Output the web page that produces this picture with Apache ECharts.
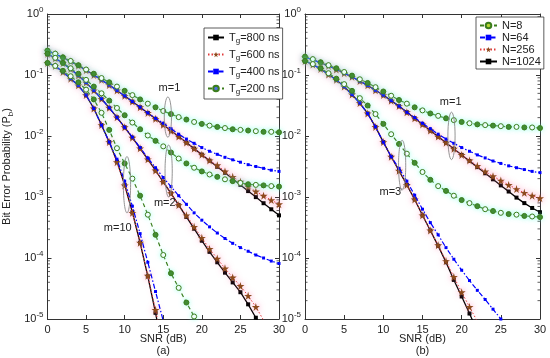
<!DOCTYPE html>
<html><head><meta charset="utf-8">
<script src="https://cdn.jsdelivr.net/npm/echarts@6/dist/echarts.min.js"></script>
<style>html,body{margin:0;padding:0;background:#fff}#c{width:550px;height:358px}</style>
</head><body><div id="c"></div>
<script>
// SNR (dB) categories
const snr = [0,1,2,3,4,5,6,7,8,9,10,11,12,13,14,15,16,17,18,19,20,21,22,23,24,25,26,27,28,29,30];

// ---- Panel (a): guard interval Tg ----
// m = 1
const a_m1_800 = [0.25,0.221,0.193,0.167,0.142,0.120,0.100,0.0832,0.0684,0.0559,0.0455,0.0367,0.0296,0.0239,0.0191,0.0153,0.0122,0.00978,0.0078,0.00621,0.00495,0.00394,0.00313,0.00249,0.00198,0.00158,0.00125,0.000996,0.000791,0.000629,0.0005];
const a_m1_600 = [0.25,0.221,0.193,0.167,0.142,0.120,0.100,0.0832,0.0684,0.0559,0.0455,0.0367,0.0296,0.0239,0.0191,0.0153,0.0122,0.00978,0.0078,0.00621,0.00495,0.00398,0.00331,0.00263,0.00214,0.00178,0.00148,0.00123,0.00105,0.00089,0.00076];
const a_m1_400 = [0.25,0.221,0.193,0.167,0.142,0.120,0.100,0.0832,0.0684,0.0559,0.0455,0.0367,0.0296,0.0239,0.0195,0.0162,0.0132,0.0107,0.00891,0.00759,0.00646,0.00562,0.00501,0.00447,0.00407,0.00372,0.00339,0.00316,0.00295,0.00275,0.00263];
const a_m1_200 = [0.251,0.224,0.195,0.170,0.145,0.123,0.105,0.0891,0.0759,0.0646,0.0550,0.0468,0.0398,0.0339,0.0295,0.0257,0.0229,0.0204,0.0186,0.0170,0.0158,0.0148,0.0141,0.0135,0.0129,0.0126,0.0123,0.0120,0.0117,0.0117,0.0115];
// m = 2
const a_m2_800 = [0.222,0.188,0.156,0.125,0.0982,0.0751,0.0559,0.0407,0.0290,0.0202,0.0139,0.0094,0.00628,0.00415,0.00272,0.00177,0.00115,0.000736,0.000472,0.000302,0.000192,0.000126,0.0000851,0.0000575,0.0000398,0.0000275,0.0000174,0.0000105,0.0000063];
const a_m2_600 = [0.222,0.188,0.156,0.125,0.0982,0.0751,0.0559,0.0407,0.0290,0.0202,0.0139,0.0094,0.00628,0.00415,0.00272,0.00177,0.00115,0.000736,0.000501,0.000324,0.000214,0.000141,0.0000977,0.0000676,0.0000479,0.0000347,0.000024,0.0000158,0.00000955];
const a_m2_400 = [0.222,0.188,0.156,0.125,0.0982,0.0751,0.0559,0.0407,0.0290,0.0202,0.0139,0.00955,0.00646,0.00437,0.00302,0.00209,0.00148,0.00105,0.000759,0.00055,0.000417,0.000324,0.000257,0.000209,0.000174,0.000148,0.000129,0.000112,0.0001,0.0000891,0.0000813];
const a_m2_200 = [0.224,0.191,0.158,0.129,0.105,0.0832,0.0646,0.0501,0.0380,0.0288,0.0219,0.0166,0.0129,0.0102,0.00832,0.00676,0.00537,0.00427,0.00355,0.00302,0.00263,0.00234,0.00214,0.00195,0.00182,0.00170,0.00162,0.00158,0.00155,0.00151,0.00148];
// m = 10
const a_m10_800 = [0.158,0.141,0.112,0.0871,0.0676,0.0468,0.0282,0.0151,0.00794,0.0038,0.00158,0.000562,0.000178,0.0000501,0.0000126,0.0000028];
const a_m10_600 = [0.158,0.141,0.112,0.0871,0.0676,0.0468,0.0282,0.0151,0.00794,0.00372,0.00155,0.00055,0.000178,0.0000513,0.0000141,0.0000035];
const a_m10_400 = [0.158,0.141,0.112,0.0871,0.0676,0.0468,0.0282,0.0151,0.00794,0.00417,0.00182,0.000708,0.000251,0.0000851,0.0000282,0.00000933,0.00000316];
const a_m10_200 = [0.158,0.141,0.117,0.0955,0.0759,0.0575,0.0398,0.024,0.0126,0.00631,0.00355,0.002,0.00105,0.000513,0.00024,0.000112,0.0000562,0.0000324,0.0000186,0.000011,0.0000063];

// ---- Panel (b): number of subcarriers N ----
// m = 1
const b_m1_1024 = [0.195,0.178,0.158,0.141,0.123,0.107,0.0933,0.0794,0.0676,0.0562,0.0468,0.038,0.0309,0.0245,0.0195,0.0155,0.0123,0.00977,0.00776,0.00617,0.0049,0.00389,0.00309,0.00245,0.00195,0.00155,0.00123,0.000977,0.000794,0.000661,0.000562];
const b_m1_256 = [0.195,0.178,0.158,0.141,0.123,0.107,0.0933,0.0794,0.0676,0.0562,0.0468,0.038,0.0309,0.0245,0.0195,0.0155,0.0123,0.00977,0.00776,0.00617,0.0049,0.00398,0.00324,0.00263,0.00219,0.00186,0.00158,0.00135,0.00117,0.00105,0.000955];
const b_m1_64 = [0.195,0.178,0.158,0.141,0.123,0.107,0.0933,0.0794,0.0676,0.0562,0.0468,0.038,0.0309,0.0245,0.02,0.0162,0.0132,0.0107,0.00891,0.00759,0.00646,0.00562,0.0049,0.00437,0.00389,0.00355,0.00324,0.00302,0.00282,0.00263,0.00251];
const b_m1_8 = [0.2,0.182,0.162,0.145,0.129,0.112,0.0977,0.0851,0.0741,0.0631,0.0537,0.0457,0.0389,0.0339,0.0295,0.0263,0.0234,0.0214,0.0195,0.0182,0.017,0.0162,0.0155,0.0151,0.0148,0.0145,0.0141,0.0141,0.0138,0.0138,0.0135];
// m = 3
const b_m3_1024 = [0.17,0.148,0.126,0.102,0.0832,0.0646,0.0479,0.0347,0.0234,0.0141,0.00794,0.00457,0.00269,0.00158,0.000912,0.000501,0.000282,0.000158,0.0000851,0.0000437,0.0000234,0.0000123,0.0000063];
const b_m3_256 = [0.17,0.148,0.126,0.102,0.0832,0.0646,0.0479,0.0347,0.0234,0.0141,0.00794,0.00457,0.00269,0.00158,0.000912,0.000501,0.000282,0.000162,0.0000891,0.000049,0.0000275,0.0000158,0.00000912,0.000005];
const b_m3_64 = [0.17,0.148,0.126,0.102,0.0832,0.0646,0.0479,0.0347,0.0234,0.0141,0.00794,0.00457,0.00295,0.00182,0.00107,0.000631,0.00038,0.00024,0.000148,0.0000955,0.0000631,0.0000427,0.0000295,0.0000209,0.0000145,0.00001,0.00000708];
const b_m3_8 = [0.17,0.151,0.129,0.107,0.0871,0.0708,0.055,0.0417,0.0316,0.0229,0.0158,0.0107,0.00741,0.00513,0.00363,0.00257,0.00191,0.00151,0.00126,0.00105,0.000891,0.000794,0.000708,0.000631,0.000589,0.00055,0.000525,0.000513,0.00049,0.000479,0.000468];

const yTicks = [1e-5,1e-4,1e-3,1e-2,1e-1,1];
const xTicks = [0,5,10,15,20,25,30];

const legendA = ['Tg=800 ns','Tg=600 ns','Tg=400 ns','Tg=200 ns'];
const legendB = ['N=8','N=64','N=256','N=1024'];

// ---------- styling ----------
const FONT = 'Liberation Sans';
const GREEN = '#3b7d1c';
const STAR = 'path://M50,0 L61,35 L98,35 L68,57 L79,91 L50,70 L21,91 L32,57 L2,35 L39,35 Z';
const styles = {
  black: {symbol:'rect', symbolSize:4, itemStyle:{color:'#000'}, lineStyle:{color:'#000', width:1.3, type:'solid'}},
  star:  {symbol:STAR, symbolSize:8, itemStyle:{color:'#8c4a1c', shadowColor:'rgba(255,110,170,0.75)', shadowBlur:6},
          lineStyle:{color:'#e23a3a', width:1, type:[1.5,2], shadowColor:'rgba(255,140,190,0.5)', shadowBlur:4}},
  blue:  {symbol:'rect', symbolSize:3, itemStyle:{color:'#0000ff'}, lineStyle:{color:'#0000ff', width:1.2, type:[5,2,1.5,2]}},
  green: {symbol:'circle', symbolSize:5,
          itemStyle:{color:(p)=> (p && p.dataIndex % 2) ? '#ffffff' : GREEN, borderColor:GREEN, borderWidth:1, shadowColor:'rgba(120,255,225,0.6)', shadowBlur:5},
          lineStyle:{color:GREEN, width:1.2, type:[4,3], shadowColor:'rgba(140,255,230,0.45)', shadowBlur:4}}
};
function mk(name, vals, st, g, z){
  return {
    type:'line', name:name, xAxisIndex:g, yAxisIndex:g, z:z,
    data: vals.map((v,i)=>[snr[i], v]), showSymbol:true, animation:false, clip:true,
    symbol: st.symbol, symbolSize: st.symbolSize, itemStyle: st.itemStyle, lineStyle: st.lineStyle,
    emphasis:{disabled:true}
  };
}

const series = [
  mk('Tg=800 ns', a_m1_800, styles.black, 0, 5), mk('Tg=800 ns', a_m2_800, styles.black, 0, 5), mk('Tg=800 ns', a_m10_800, styles.black, 0, 5),
  mk('Tg=600 ns', a_m1_600, styles.star, 0, 6), mk('Tg=600 ns', a_m2_600, styles.star, 0, 6), mk('Tg=600 ns', a_m10_600, styles.star, 0, 6),
  mk('Tg=400 ns', a_m1_400, styles.blue, 0, 7), mk('Tg=400 ns', a_m2_400, styles.blue, 0, 7), mk('Tg=400 ns', a_m10_400, styles.blue, 0, 7),
  mk('Tg=200 ns', a_m1_200, styles.green, 0, 8), mk('Tg=200 ns', a_m2_200, styles.green, 0, 8), mk('Tg=200 ns', a_m10_200, styles.green, 0, 8),
  mk('N=1024', b_m1_1024, styles.black, 1, 5), mk('N=1024', b_m3_1024, styles.black, 1, 5),
  mk('N=256', b_m1_256, styles.star, 1, 6), mk('N=256', b_m3_256, styles.star, 1, 6),
  mk('N=64', b_m1_64, styles.blue, 1, 7), mk('N=64', b_m3_64, styles.blue, 1, 7),
  mk('N=8', b_m1_8, styles.green, 1, 8), mk('N=8', b_m3_8, styles.green, 1, 8)
];

const AXC = '#333';
const labelStyle = {fontFamily:FONT, fontSize:11, color:'#222'};
function xAx(g, top){
  return {type:'value', gridIndex:g, position: top?'top':'bottom', min:0, max:30, interval:5,
    axisLine:{onZero:false, lineStyle:{color:AXC, width:1}},
    axisTick:{inside:true, length:4, lineStyle:{color:AXC}},
    axisLabel: top ? {show:false} : Object.assign({margin:5, formatter:(v)=> xTicks.includes(v)? String(v):''}, labelStyle),
    splitLine:{show:false},
    name: top ? '' : 'SNR (dB)', nameLocation:'middle', nameGap:14, nameMoveOverlap:false,
    nameTextStyle:{fontFamily:FONT, fontSize:11, color:'#222'}};
}
function yAx(g, right, withName){
  return {type:'log', logBase:10, gridIndex:g, position: right?'right':'left', min:1e-5, max:1,
    axisLine:{onZero:false, lineStyle:{color:AXC, width:1}},
    axisTick:{inside:true, length:4, lineStyle:{color:AXC}},
    axisLabel: right ? {show:false} : {margin:4, fontFamily:FONT, color:'#222',
      formatter:(v)=> yTicks.some(t=>Math.abs(t-v)/t<1e-6) ? '{b|10}{s|'+Math.round(Math.log10(v))+'}' : '',
      rich:{b:{fontFamily:FONT, fontSize:11, color:'#222'}, s:{fontFamily:FONT, fontSize:8, color:'#222', verticalAlign:'top', padding:[0,0,9,0]}}},
    splitLine:{show:false},
    name: withName ? '{n|Bit Error Probability (P}{sub|b}{n|)}' : '', nameLocation:'middle', nameGap:33, nameRotate:90, nameMoveOverlap:false,
    nameTextStyle:{rich:{n:{fontFamily:FONT, fontSize:11, color:'#222'}, sub:{fontFamily:FONT, fontSize:8, color:'#222', verticalAlign:'bottom', padding:[8,0,0,0]}}}};
}

const legendFmt = (name)=> name.indexOf('Tg')===0 ? '{a|T}{g|g}{a|'+name.slice(2)+'}' : '{a|'+name+'}';
const legRich = {a:{fontFamily:FONT, fontSize:11, color:'#222'}, g:{fontFamily:FONT, fontSize:8, color:'#222', verticalAlign:'bottom', padding:[7,0,0,0]}};

const chart = echarts.init(document.getElementById('c'), null, {renderer:'canvas'});
chart.setOption({
  animation:false,
  backgroundColor:'#fff',
  grid:[{left:43, top:14, width:236, height:305}, {left:305, top:14, width:235, height:305}],
  xAxis:[xAx(0,false), xAx(1,false), xAx(0,true), xAx(1,true)],
  yAxis:[yAx(0,false,true), yAx(1,false,false), yAx(0,true,false), yAx(1,true,false)],
  legend:[
    {data:legendA, orient:'vertical', left:204, top:28, itemWidth:16, itemHeight:7, itemGap:4, z:300, zlevel:1,
     backgroundColor:'#fff', borderColor:'#333', borderWidth:0.8, borderRadius:0, padding:[4,3,3,3],
     formatter:legendFmt, textStyle:{rich:legRich}},
    {data:legendB, orient:'vertical', left:476, top:17, itemWidth:17, itemHeight:7, itemGap:1, z:300, zlevel:1,
     backgroundColor:'#fff', borderColor:'#333', borderWidth:0.8, borderRadius:0, padding:[3,3,2,3],
     formatter:legendFmt, textStyle:{rich:legRich}}
  ],
  series: series
});

// ---------- annotations (data coordinates) ----------
const ovalsA = [ {x:15.6, top:0.0437, bottom:0.00955}, {x:15.7, top:0.0071, bottom:0.001}, {x:10.3, top:0.0046, bottom:0.00055} ];
const labelsA = [ {t:'m=1', x:15.8, y:0.0617}, {t:'m=2', x:15.2, y:0.00079}, {t:'m=10', x:9.1, y:0.00031} ];
const ovalsB = [ {x:18.7, top:0.0246, bottom:0.0041}, {x:12.4, top:0.0085, bottom:0.0013} ];
const labelsB = [ {t:'m=1', x:18.6, y:0.0363}, {t:'m=3', x:10.9, y:0.0012} ];

const gfx = [];
function addAnn(g, ovals, labels){
  ovals.forEach(o=>{
    const p1 = chart.convertToPixel({gridIndex:g}, [o.x, o.top]);
    const p2 = chart.convertToPixel({gridIndex:g}, [o.x, o.bottom]);
    gfx.push({type:'ellipse', shape:{cx:p1[0], cy:(p1[1]+p2[1])/2, rx:3.6, ry:(p2[1]-p1[1])/2},
      style:{fill:null, stroke:'#888', lineWidth:0.9}, z:100});
  });
  labels.forEach(l=>{
    const p = chart.convertToPixel({gridIndex:g}, [l.x, l.y]);
    gfx.push({type:'text', x:p[0], y:p[1], style:{text:l.t, fontFamily:FONT, fontSize:11, fill:'#222', align:'center', verticalAlign:'middle'}, z:100});
  });
}
addAnn(0, ovalsA, labelsA);
addAnn(1, ovalsB, labelsB);
// short leader from the m=3 label to its ellipse
(function(){
  const a = chart.convertToPixel({gridIndex:1}, [12.2, 0.00125]);
  const b = chart.convertToPixel({gridIndex:1}, [12.4, 0.0014]);
  gfx.push({type:'line', shape:{x1:a[0], y1:a[1], x2:b[0], y2:b[1]}, style:{stroke:'#888', lineWidth:0.9}, z:100});
})();

// log minor ticks (2..9 per decade), both sides of each panel
[0,1].forEach(g=>{
  const L = chart.convertToPixel({gridIndex:g}, [0, 1])[0];
  const R = chart.convertToPixel({gridIndex:g}, [30, 1])[0];
  for (let d=-5; d<0; d++){
    for (let k=2; k<10; k++){
      const y = chart.convertToPixel({gridIndex:g}, [0, k*Math.pow(10,d)])[1];
      gfx.push({type:'line', shape:{x1:L, y1:y, x2:L+2.5, y2:y}, style:{stroke:AXC, lineWidth:0.8}, z:1});
      gfx.push({type:'line', shape:{x1:R-2.5, y1:y, x2:R, y2:y}, style:{stroke:AXC, lineWidth:0.8}, z:1});
    }
  }
});
// panel captions
gfx.push({type:'text', x:chart.convertToPixel({gridIndex:0},[15,1])[0], y:351, style:{text:'(a)', fontFamily:FONT, fontSize:11, fill:'#222', align:'center', verticalAlign:'middle'}});
gfx.push({type:'text', x:chart.convertToPixel({gridIndex:1},[15,1])[0], y:351, style:{text:'(b)', fontFamily:FONT, fontSize:11, fill:'#222', align:'center', verticalAlign:'middle'}});
chart.setOption({graphic: gfx});
</script>
</body></html>
